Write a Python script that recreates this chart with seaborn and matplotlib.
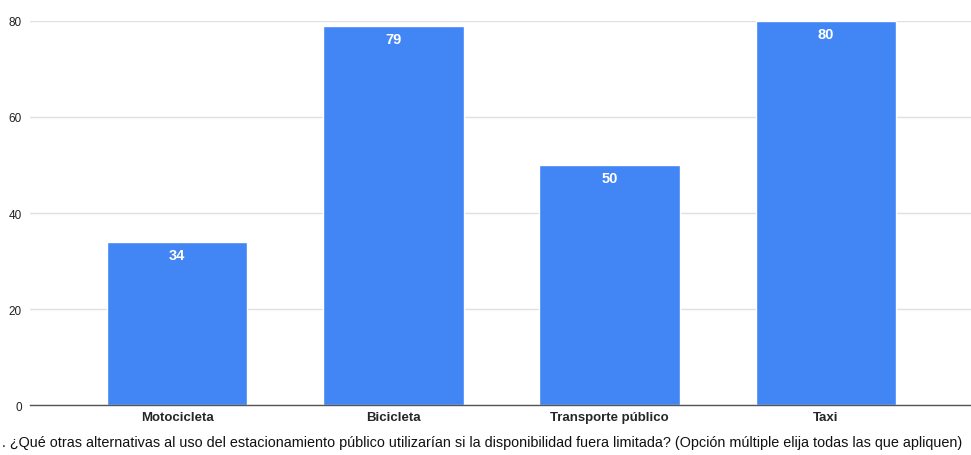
import matplotlib
matplotlib.use("Agg")
import matplotlib.pyplot as plt
import seaborn as sns
import pandas as pd

categorias = ["Motocicleta", "Bicicleta", "Transporte público", "Taxi"]
valores = [34, 79, 50, 80]
titulo = (". ¿Qué otras alternativas al uso del estacionamiento público utilizarían si la "
          "disponibilidad fuera limitada? (Opción múltiple elija todas las que apliquen)")

df = pd.DataFrame({"Categoria": categorias, "Valor": valores})

sns.set_style("white")
plt.rcParams["font.family"] = ["Liberation Sans", "DejaVu Sans"]

fig = plt.figure(figsize=(9.71, 4.56), dpi=100)
ax = fig.add_axes([0.031, 0.1096, 0.969, 0.8422])

sns.barplot(data=df, x="Categoria", y="Valor", color="#4285F4", width=0.65,
            saturation=1, ax=ax, zorder=3)

ax.set_ylim(0, 80)
ax.set_xlim(-0.68, 3.67)
ax.set_yticks([0, 20, 40, 60, 80])
ax.yaxis.grid(True, color="#e0e0e0", linewidth=1, zorder=0)
ax.set_axisbelow(True)
for s in ["top", "right", "left"]:
    ax.spines[s].set_visible(False)
ax.spines["bottom"].set_color("#555555")
ax.spines["bottom"].set_linewidth(1)
ax.spines["bottom"].set_zorder(5)
ax.tick_params(axis="y", length=0, labelsize=8.5, colors="#222222", pad=6)
ax.tick_params(axis="x", length=0, labelsize=9.5, pad=4)
for lbl in ax.get_xticklabels():
    lbl.set_fontweight("bold")
ax.set_xlabel("")
ax.set_ylabel("")

# etiquetas de valor dentro de las barras
for i, v in enumerate(valores):
    ax.text(i, v - 1.2, str(v), ha="center", va="top", color="white",
            fontsize=10.5, fontweight="bold", zorder=6)

fig.text(0.002, 0.028, titulo, ha="left", va="center", fontsize=10.35, color="#111111")

fig.savefig("out.png", dpi=100)
